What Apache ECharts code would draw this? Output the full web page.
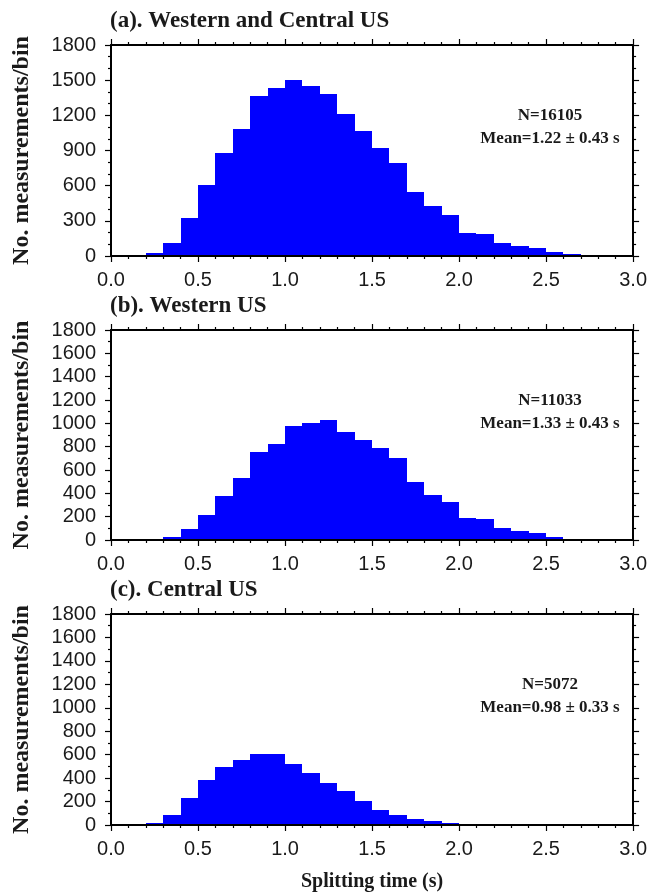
<!DOCTYPE html>
<html>
<head>
<meta charset="utf-8">
<title>Splitting time histograms</title>
<script src="https://cdn.jsdelivr.net/npm/echarts@6/dist/echarts.min.js"></script>
<style>
    html, body { margin: 0; padding: 0; background: #fff; }
    #chart { width: 650px; height: 896px; }
</style>
</head>
<body>
<div id="chart"></div>
<script>
// bin edges of the histograms (s)
const binEdges = [0.0, 0.1, 0.2, 0.3, 0.4, 0.5, 0.6, 0.7, 0.8, 0.9, 1.0,
    1.1, 1.2, 1.3, 1.4, 1.5, 1.6, 1.7, 1.8, 1.9, 2.0,
    2.1, 2.2, 2.3, 2.4, 2.5, 2.6, 2.7, 2.8, 2.9, 3.0];

const countsWesternCentral = [0, 0, 23, 111, 321, 603, 876, 1081, 1362, 1431,
    1499, 1448, 1379, 1209, 1064, 919, 791, 543, 424, 347,
    196, 185, 108, 82, 65, 31, 14, 0, 0, 0];
const countsWestern = [0, 0, 0, 26, 94, 214, 377, 531, 753, 822,
    976, 1001, 1027, 924, 856, 787, 702, 496, 385, 325,
    188, 177, 103, 80, 60, 26, 9, 0, 0, 0];
const countsCentral = [0, 0, 17, 85, 230, 384, 495, 555, 606, 606,
    520, 444, 358, 290, 205, 128, 85, 51, 34, 17,
    9, 0, 0, 0, 0, 0, 0, 0, 0, 0];

const panelTitles = ['(a). Western and Central US', '(b). Western US', '(c). Central US'];
const panelN = ['16105', '11033', '5072'];
const panelMean = ['1.22 ± 0.43', '1.33 ± 0.43', '0.98 ± 0.33'];
const yTickStep = [300, 200, 200];
const yMax = 1800;
const xMax = 3.0;
const xTickStep = 0.5;

const panelCounts = [countsWesternCentral, countsWestern, countsCentral];

// layout
const gridLeft = 111;
const gridRight = 13;
const gridTops = [45, 330, 614];
const gridHeights = [211, 210, 211];

const textColor = '#1a1a1a';
const barColor = '#0000ff';
const serif = '"Liberation Serif", "Times New Roman", serif';
const sans = '"Liberation Sans", Arial, sans-serif';

function binData(counts) {
    let out = [];
    for (let i = 0; i < counts.length; i++) {
        out.push([binEdges[i], binEdges[i + 1], counts[i]]);
    }
    return out;
}

function renderBin(params, api) {
    let v = api.value(2);
    if (!v) return;
    let topLeft = api.coord([api.value(0), v]);
    let bottomRight = api.coord([api.value(1), 0]);
    // snap to whole pixels so neighbouring bins meet without seams
    let x0 = Math.round(topLeft[0]);
    let x1 = Math.round(bottomRight[0]);
    let y0 = Math.round(topLeft[1]);
    let y1 = Math.round(bottomRight[1]);
    return {
        type: 'rect',
        shape: { x: x0, y: y0, width: x1 - x0, height: y1 - y0 },
        style: { fill: barColor }
    };
}

const lineStyle = { color: '#000', width: 2 };
const tickStyle = { color: '#000', width: 1.2 };

function xAxes(i) {
    let base = {
        gridIndex: i,
        type: 'value',
        min: 0,
        max: xMax,
        interval: xTickStep,
        axisLine: { show: true, onZero: false, lineStyle: lineStyle },
        axisTick: { show: true, length: 6, lineStyle: tickStyle },
        minorTick: { show: true, splitNumber: 5, length: 3, lineStyle: tickStyle },
        splitLine: { show: false },
        z: 10
    };
    let bottom = Object.assign({}, base, {
        position: 'bottom',
        axisLabel: {
            margin: 14,
            fontSize: 20,
            fontFamily: sans,
            color: textColor,
            formatter: v => v.toFixed(1)
        }
    });
    if (i === 2) {
        bottom.name = 'Splitting time (s)';
        bottom.nameLocation = 'middle';
        bottom.nameGap = 47;
        bottom.nameTextStyle = { fontFamily: serif, fontWeight: 'bold', fontSize: 20, color: textColor };
    }
    let top = Object.assign({}, base, { position: 'top', axisLabel: { show: false } });
    return [bottom, top];
}

function yAxes(i) {
    let base = {
        gridIndex: i,
        type: 'value',
        min: 0,
        max: yMax,
        interval: yTickStep[i],
        axisLine: { show: true, onZero: false, lineStyle: lineStyle },
        axisTick: { show: true, length: 6, lineStyle: tickStyle },
        minorTick: { show: true, splitNumber: yTickStep[i] / 100, length: 3, lineStyle: tickStyle },
        splitLine: { show: false },
        z: 10
    };
    let left = Object.assign({}, base, {
        position: 'left',
        axisLabel: {
            margin: 15,
            fontSize: 20,
            fontFamily: sans,
            color: textColor,
            formatter: v => String(v)
        },
        name: 'No. measurements/bin',
        nameLocation: 'middle',
        nameGap: 77,
        nameTextStyle: { fontFamily: serif, fontWeight: 'bold', fontSize: 24, color: textColor }
    });
    let right = Object.assign({}, base, { position: 'right', axisLabel: { show: false } });
    return [left, right];
}

let grid = [], xAxis = [], yAxis = [], series = [], title = [], graphic = [];
for (let i = 0; i < 3; i++) {
    grid.push({ left: gridLeft, right: gridRight, top: gridTops[i], height: gridHeights[i] });
    xAxis = xAxis.concat(xAxes(i));
    yAxis = yAxis.concat(yAxes(i));
    series.push({
        type: 'custom',
        xAxisIndex: i * 2,
        yAxisIndex: i * 2,
        renderItem: renderBin,
        encode: { x: [0, 1], y: 2 },
        data: binData(panelCounts[i]),
        silent: true
    });
    title.push({
        text: panelTitles[i],
        left: gridLeft - 1,
        top: gridTops[i] - 35,
        padding: 0,
        textStyle: { fontFamily: serif, fontWeight: 'bold', fontSize: 23, color: textColor }
    });
    graphic.push({
        type: 'text',
        x: 550,
        y: gridTops[i] + 82.5,
        style: {
            text: 'N=' + panelN[i] + '\nMean=' + panelMean[i] + ' s',
            align: 'center',
            verticalAlign: 'middle',
            fontFamily: serif,
            fontWeight: 'bold',
            fontSize: 17,
            lineHeight: 23,
            fill: textColor
        }
    });
}

let myChart = echarts.init(document.getElementById('chart'), null, { renderer: 'canvas' });
myChart.setOption({
    animation: false,
    backgroundColor: '#fff',
    title: title,
    grid: grid,
    xAxis: xAxis,
    yAxis: yAxis,
    series: series,
    graphic: graphic
});
</script>
</body>
</html>
